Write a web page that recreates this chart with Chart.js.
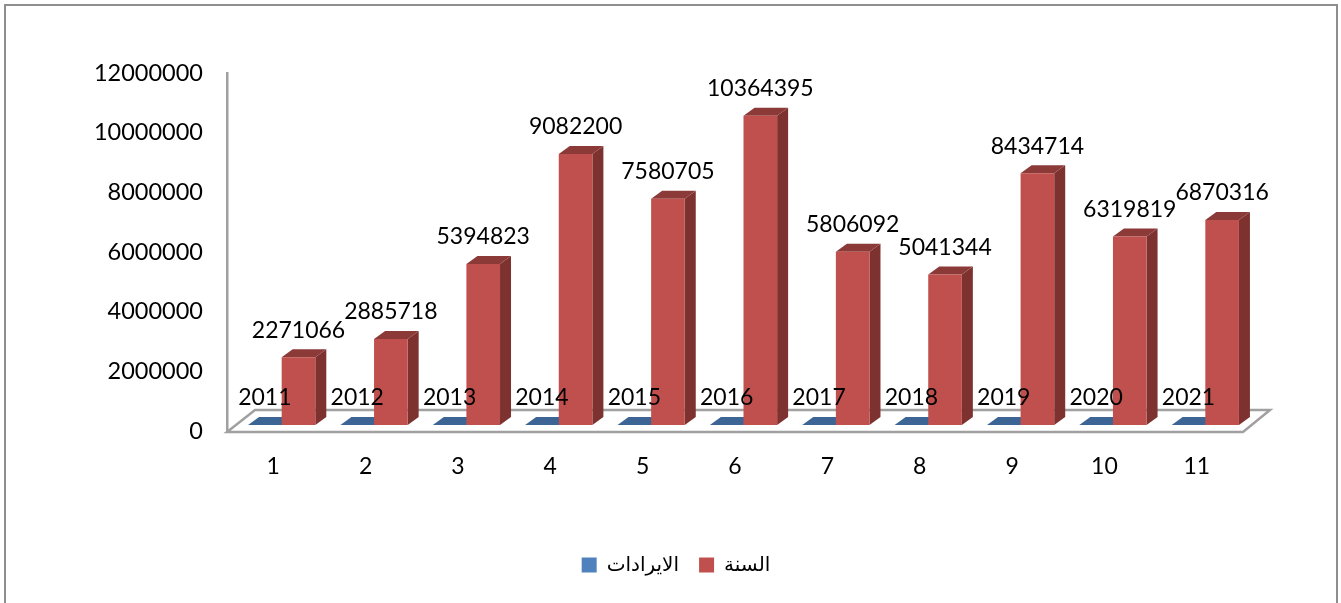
<!DOCTYPE html>
<html>
<head>
<meta charset="utf-8">
<title>chart</title>
<style>
  html, body { margin: 0; padding: 0; background: #fff; overflow: hidden; }
  #frame { position: absolute; left: 4px; top: 4px; width: 1330px; height: 700px; border: 2px solid #8e8e8e; }
  #wrap { position: absolute; left: 0; top: 0; width: 1341px; height: 603px; }
</style>
</head>
<body>
<div id="frame"></div>
<div id="wrap"><canvas id="revenueChart"></canvas></div>
<script src="https://cdn.jsdelivr.net/npm/chart.js@4"></script>
<script>
const categories = ['1', '2', '3', '4', '5', '6', '7', '8', '9', '10', '11'];
const years = [2011, 2012, 2013, 2014, 2015, 2016, 2017, 2018, 2019, 2020, 2021];
const revenues = [2271066, 2885718, 5394823, 9082200, 7580705, 10364395, 5806092, 5041344, 8434714, 6319819, 6870316];
const yTicks = [0, 2000000, 4000000, 6000000, 8000000, 10000000, 12000000];

const FONT = 'Lato, "Open Sans", sans-serif';
const shades = [
  { top: '#3c6596', side: '#2f5077' },
  { top: '#8c3a38', side: '#7d3230' },
];

// fake 3d look: the front faces are the normal bars, shifted onto the floor
const shiftX = 8.5, shiftY = -6, depthX = 11, depthY = 8;

const drawDepth = (ctx, meta, shade) => {
  meta.data.forEach((el) => {
    const l = el.x - el.width / 2, r = el.x + el.width / 2;
    ctx.fillStyle = shade.side;
    ctx.beginPath();
    ctx.moveTo(r, el.y);
    ctx.lineTo(r + depthX, el.y - depthY);
    ctx.lineTo(r + depthX, el.base - depthY);
    ctx.lineTo(r, el.base);
    ctx.closePath();
    ctx.fill();
    ctx.fillStyle = shade.top;
    ctx.beginPath();
    ctx.moveTo(l, el.y);
    ctx.lineTo(l + depthX, el.y - depthY);
    ctx.lineTo(r + depthX, el.y - depthY);
    ctx.lineTo(r, el.y);
    ctx.closePath();
    ctx.fill();
  });
};

const bars3d = {
  id: 'bars3d',
  beforeDatasetsDraw(chart) {
    const { ctx, chartArea: a } = chart;
    ctx.save();
    ctx.strokeStyle = '#a0a0a0';
    ctx.lineWidth = 2.5;
    ctx.beginPath();
    ctx.moveTo(a.left, a.bottom + 1);
    ctx.lineTo(a.right, a.bottom + 1);
    ctx.lineTo(a.right + 27, a.bottom - 21);
    ctx.lineTo(a.left + 28, a.bottom - 21);
    ctx.closePath();
    ctx.stroke();
    // the flat blue bars go under the red ones, which the library draws first
    ctx.translate(shiftX, shiftY);
    drawDepth(ctx, chart.getDatasetMeta(0), shades[0]);
    ctx.restore();
  },
  beforeDatasetDraw(chart, args) {
    const { ctx } = chart;
    ctx.save();
    ctx.translate(shiftX, shiftY);
    if (args.index > 0) drawDepth(ctx, args.meta, shades[args.index]);
  },
  afterDatasetDraw(chart) {
    chart.ctx.restore();
  },
  afterDatasetsDraw(chart) {
    const { ctx } = chart;
    ctx.save();
    ctx.font = '23px ' + FONT;
    ctx.fillStyle = '#000';
    ctx.textAlign = 'center';
    ctx.textBaseline = 'middle';
    chart.data.datasets.forEach((ds, i) => {
      chart.getDatasetMeta(i).data.forEach((el, j) => {
        ctx.fillText(String(ds.data[j]), el.x + shiftX, el.y + shiftY - 27);
      });
    });
    ctx.restore();
  },
};

new Chart(document.getElementById('revenueChart').getContext('2d'), {
  type: 'bar',
  data: {
    labels: categories,
    datasets: [
      { label: 'الايرادات', data: years, backgroundColor: '#4f81bd' },
      { label: 'السنة', data: revenues, backgroundColor: '#c0504d' },
    ],
  },
  options: {
    responsive: true,
    maintainAspectRatio: false,
    animation: false,
    layout: { padding: { left: 11, top: 73, right: 0, bottom: 18 } },
    datasets: { bar: { barPercentage: 1, categoryPercentage: 0.728 } },
    scales: {
      x: {
        grid: { display: false, drawTicks: false },
        border: { display: false },
        ticks: { color: '#000', font: { family: FONT, size: 23 }, padding: 22 },
        afterFit(scale) { scale.height = 104; },
      },
      y: {
        min: 0,
        max: 12000000,
        grid: { display: false, drawTicks: false },
        border: { display: true, color: '#a0a0a0', width: 2.5 },
        afterBuildTicks(scale) { scale.ticks = yTicks.map((value) => ({ value })); },
        ticks: {
          color: '#000',
          font: { family: FONT, size: 23.5 },
          padding: 24,
          callback: (value) => String(value),
        },
        afterFit(scale) { scale.width = 216; },
      },
      // keeps room on the right while the legend stays centred on the page
      spacer: {
        position: 'right',
        display: true,
        grid: { display: false, drawTicks: false },
        border: { display: false },
        ticks: { display: false },
        afterFit(scale) { scale.width = 98; },
      },
    },
    plugins: {
      title: { display: false },
      tooltip: { enabled: false },
      legend: {
        position: 'bottom',
        labels: {
          boxWidth: 15,
          boxHeight: 15,
          color: '#000',
          font: { family: '"Liberation Sans", "DejaVu Sans", sans-serif', size: 20 },
          padding: 20,
        },
      },
    },
  },
  plugins: [bars3d],
});
</script>
</body>
</html>
